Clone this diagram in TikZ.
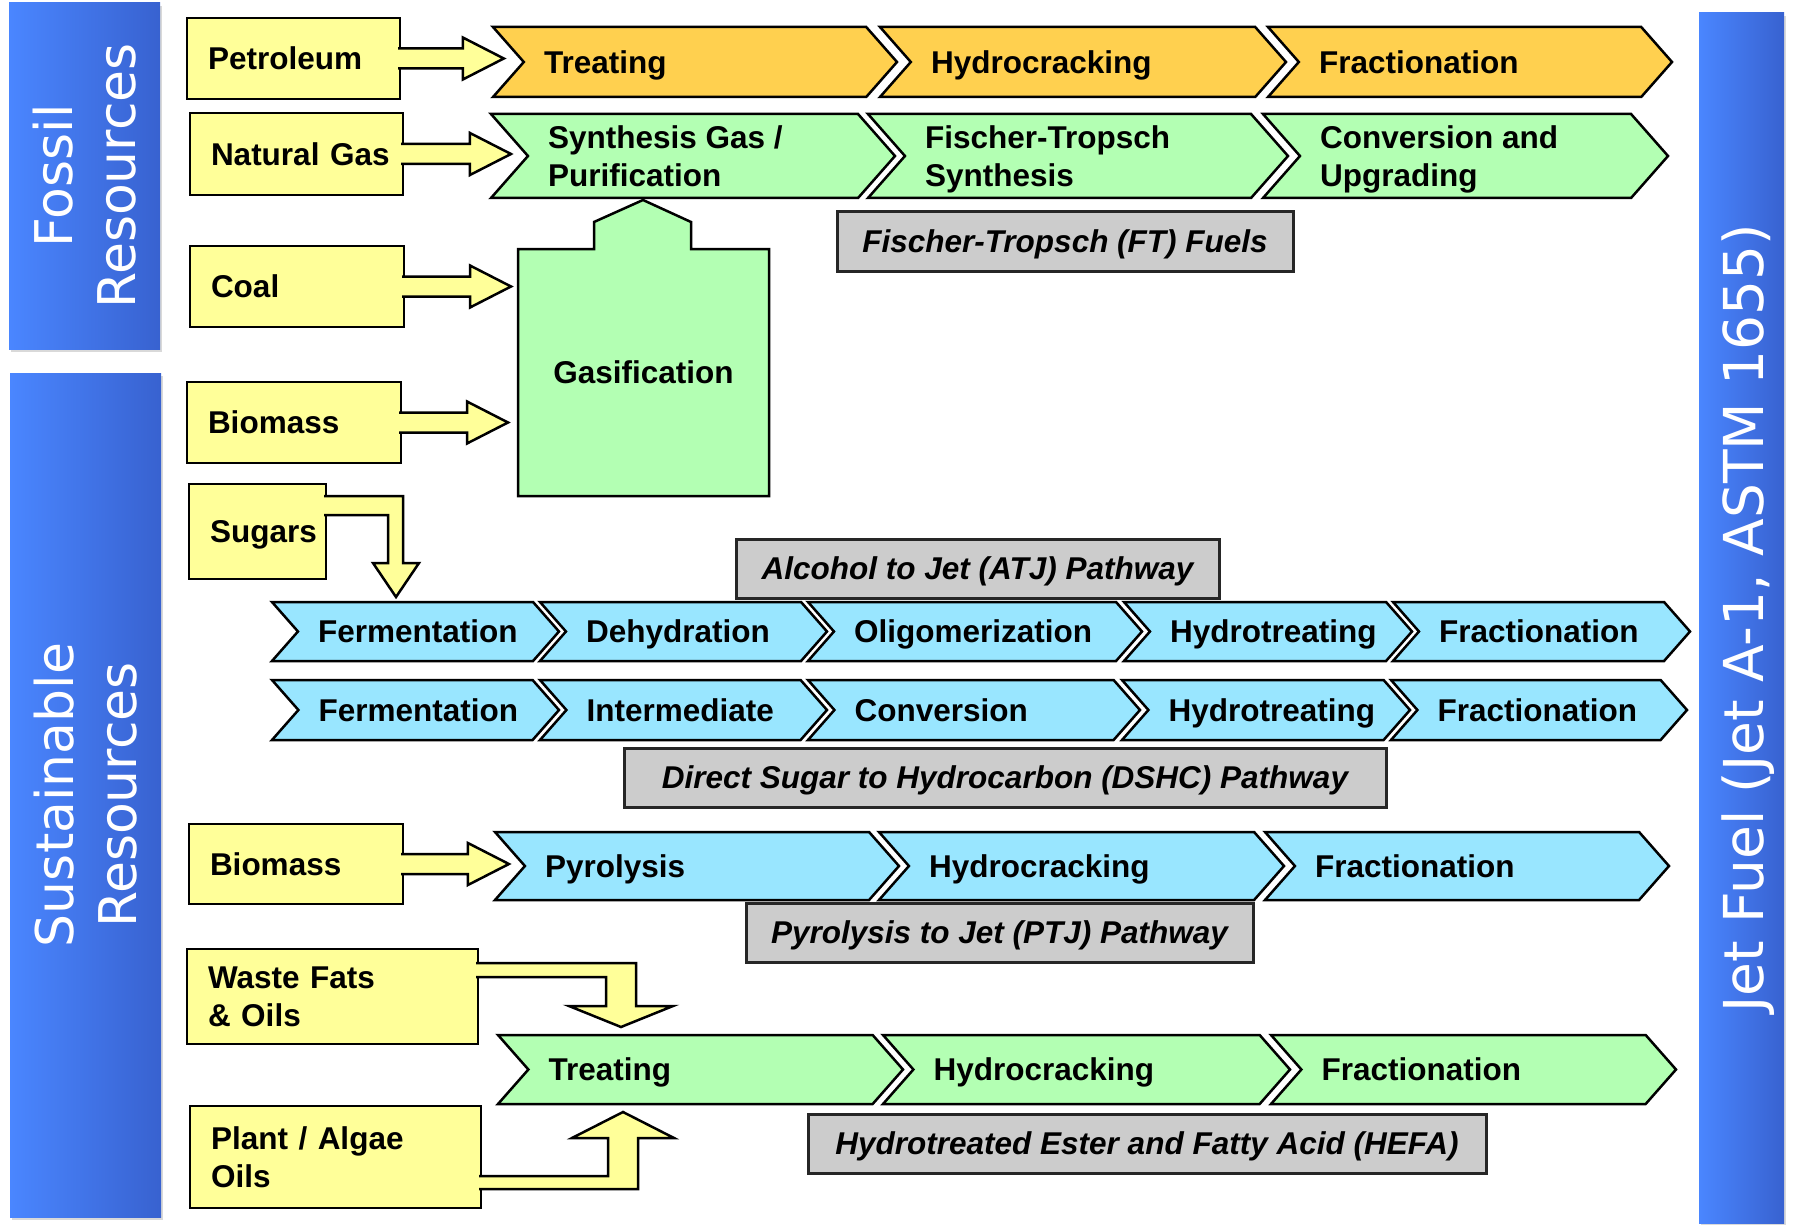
\documentclass[tikz,border=0pt]{standalone}
\usepackage{fontspec}
\setmainfont{Liberation Sans}
\newfontfamily\barfont{DejaVu Sans}
\usetikzlibrary{calc}
\usetikzlibrary{shadows}

\definecolor{srcyellow}{RGB}{255,255,153}
\definecolor{fosorange}{RGB}{255,208,79}
\definecolor{ftgreen}{RGB}{179,255,179}
\definecolor{bioblue}{RGB}{153,230,255}
\definecolor{lblgray}{RGB}{204,204,204}
\definecolor{barlight}{RGB}{74,134,255}
\definecolor{bardark}{RGB}{56,98,208}

\newcommand{\stepfont}{\bfseries\fontsize{31.5}{38}\selectfont}
\newcommand{\lblfont}{\bfseries\itshape\fontsize{31.5}{38}\selectfont}

% one process step: [label options] name, colour, left x, tip x, top y, bottom y, text
\newcommand{\chev}[8][oneline]{%
  \pgfmathsetmacro{\cmid}{(#6+#7)/2}%
  \pgfmathsetmacro{\cdep}{0.44*(#7-#6)}%
  \filldraw[chevline, fill=#3] (#4,#6) -- (#5-\cdep,#6) -- (#5,\cmid) -- (#5-\cdep,#7) -- (#4,#7) -- (#4+\cdep,\cmid) -- cycle;
  \coordinate (#2-in) at (#4+\cdep,\cmid);
  \node[steplabel, #1] (#2) at (#4+\cdep+20,\cmid) {#8};%
}

% block arrow from a source box towards a step
\newcommand{\feed}[3]{%
  \coordinate (tip) at ($(#1.east -| #2)+(-#3,0)$);
  \filldraw[feedarrow] ($(#1.east)+(-2,-10)$) -- ($(tip)+(-41,-10)$) -- ++(0,-11) -- (tip) -- ($(tip)+(-41,21)$) -- ++(0,-11) -- ($(#1.east)+(-2,10)$);%
}

\begin{document}
\begin{tikzpicture}[
  x=1pt, y=-1pt,
  oneline/.style={text height=22.5pt, text depth=0pt},
  srcbox/.style={draw, line width=2.5pt, fill=srcyellow, outer sep=0pt, inner xsep=21pt, align=left, font=\stepfont},
  chevline/.style={draw, line width=2.5pt, line join=miter},
  steplabel/.style={anchor=west, inner sep=0pt, align=left, font=\stepfont},
  feedarrow/.style={draw, line width=2.5pt, fill=srcyellow, line join=miter},
  pathlbl/.style={draw=black!85, line width=3pt, fill=lblgray, font=\lblfont, inner sep=0pt, oneline},
  resbar/.style={left color=barlight, right color=bardark, drop shadow={shadow xshift=2pt, shadow yshift=-3pt, opacity=0.3}},
  bartext/.style={white, rotate=90, align=center, font=\barfont\fontsize{52}{63}\selectfont}
]
\useasboundingbox (0,0) rectangle (1795,1225);

% resource bars
\path[resbar] (9,3) rectangle (160,349);
\path[resbar] (10,373) rectangle (161,1217);
\path[resbar] (1699,13) rectangle (1784,1223);
\node[bartext] (fos) at (84.5,176) {Fossil\\Resources};
\node[bartext] (sus) at (85.5,795) {Sustainable\\Resources};
\node[bartext, font=\barfont\fontsize{55}{63}\selectfont] (jet) at (1748,618) {Jet Fuel (Jet A-1, ASTM 1655)};

% petroleum route
\chev{tr1}{fosorange}{493}{897}{27}{97}{Treating}
\chev{hc1}{fosorange}{880}{1286}{27}{97}{Hydrocracking}
\chev{fr1}{fosorange}{1268}{1672}{27}{97}{Fractionation}

% Fischer-Tropsch route
\chev[]{syn}{ftgreen}{491}{895}{114}{198}{Synthesis Gas /\\Purification}
\chev[yshift=-3pt]{ft}{ftgreen}{868}{1288}{114}{198}{Fischer-Tropsch\\Synthesis}
\chev[yshift=-3pt]{cnv}{ftgreen}{1263}{1668}{114}{198}{Conversion and\\Upgrading}

\filldraw[chevline, fill=ftgreen] (518,249) -- (594,249) -- (594,222) -- (643,200) -- (691,222) -- (691,249) -- (769,249) -- (769,496) -- (518,496) -- cycle;
\node[font=\stepfont] (gas) at (643.5,372.5) {Gasification};
\coordinate (gas-in) at (518,372);

% alcohol to jet
\chev{fe1}{bioblue}{272}{559}{602}{661}{Fermentation}
\chev{dh}{bioblue}{540}{827}{602}{661}{Dehydration}
\chev{ol}{bioblue}{808}{1142}{602}{661}{Oligomerization}
\chev{ht1}{bioblue}{1124}{1412}{602}{661}{Hydrotreating}
\chev{fr2}{bioblue}{1393}{1690}{602}{661}{Fractionation}

% direct sugar to hydrocarbon
\chev{fe2}{bioblue}{272}{559}{680}{740}{Fermentation}
\chev{im}{bioblue}{540}{827}{680}{740}{Intermediate}
\chev{cv}{bioblue}{808}{1140}{680}{740}{Conversion}
\chev{ht2}{bioblue}{1122}{1410}{680}{740}{Hydrotreating}
\chev{fr3}{bioblue}{1391}{1687}{680}{740}{Fractionation}

% pyrolysis to jet
\chev{py}{bioblue}{495}{899}{832}{900}{Pyrolysis}
\chev{hc2}{bioblue}{879}{1284}{832}{900}{Hydrocracking}
\chev{fr4}{bioblue}{1265}{1669}{832}{900}{Fractionation}

% HEFA
\chev{tr2}{ftgreen}{498}{903}{1035}{1104}{Treating}
\chev{hc3}{ftgreen}{883}{1290}{1035}{1104}{Hydrocracking}
\chev{fr5}{ftgreen}{1271}{1676}{1035}{1104}{Fractionation}

% feedstocks
\node[srcbox, text width=171pt, minimum height=81pt] (pet) at (293.5,58.5) {Petroleum};
\node[srcbox, text width=171pt, minimum height=82pt] (ng) at (296.5,154) {\mbox{Natural Gas}};
\node[srcbox, text width=172pt, minimum height=81pt] (coal) at (297,286.5) {Coal};
\node[srcbox, text width=172pt, minimum height=81pt] (bio1) at (294,422.5) {Biomass};
\node[srcbox, text width=95pt, minimum height=95pt, oneline] (sug) at (257.5,531.5) {Sugars};
\node[srcbox, text width=172pt, minimum height=80pt] (bio2) at (296,864) {Biomass};
\node[srcbox, text width=249pt, minimum height=95pt] (waste) at (332.5,996.5) {Waste Fats\\\& Oils};
\node[srcbox, text width=249pt, minimum height=102pt] (plant) at (335.5,1157) {Plant / Algae\\Oils};

\feed{pet}{tr1-in}{20}
\feed{ng}{syn-in}{17}
\feed{coal}{gas-in}{7}
\feed{bio1}{gas-in}{10}
\feed{bio2}{py-in}{16}

% bent feeds
\filldraw[feedarrow] ($(sug.north east)+(-2,12)$) -- ++(79,0) -- ++(0,67) -- ++(16,0) -- ++(-23,34) -- ++(-23,-34) -- ++(15,0) -- ++(0,-48) -- ++(-64,0);
\filldraw[feedarrow] ($(waste.north east)+(-2,14)$) -- ++(160,0) -- ++(0,43) -- ++(37,0) -- ++(-52,21) -- ++(-52,-21) -- ++(37,0) -- ++(0,-29) -- ++(-130,0);
\filldraw[feedarrow] ($(plant.south east)+(-2,-19)$) -- ++(159,0) -- ++(0,-51) -- ++(36,0) -- ++(-51,-26) -- ++(-51,26) -- ++(36,0) -- ++(0,38) -- ++(-129,0);

% pathway labels
\node[pathlbl, minimum width=456pt, minimum height=60pt] (ftl) at (1065,241) {Fischer-Tropsch (FT) Fuels};
\node[pathlbl, minimum width=483pt, minimum height=59pt] (atj) at (977.5,568.5) {Alcohol to Jet (ATJ) Pathway};
\node[pathlbl, minimum width=762pt, minimum height=59pt] (dshc) at (1005,777.5) {Direct Sugar to Hydrocarbon (DSHC) Pathway};
\node[pathlbl, minimum width=507pt, minimum height=59pt] (ptj) at (999.5,932.5) {Pyrolysis to Jet (PTJ) Pathway};
\node[pathlbl, minimum width=678pt, minimum height=59pt] (hefa) at (1147,1143.5) {Hydrotreated Ester and Fatty Acid (HEFA)};

\end{tikzpicture}
\end{document}
